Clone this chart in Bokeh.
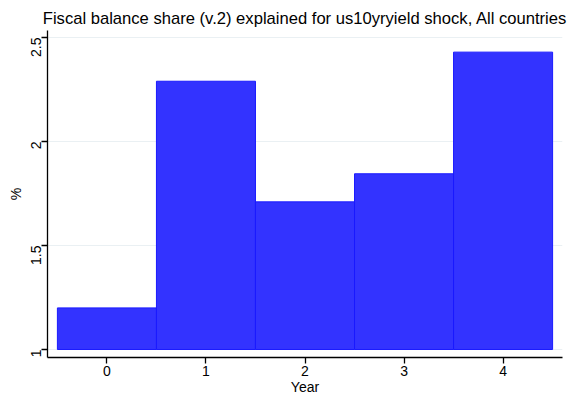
from bokeh.plotting import figure
from bokeh.models import FixedTicker, Range1d, ColumnDataSource
from bokeh.embed import file_html
from bokeh.resources import INLINE
import math

years = [0, 1, 2, 3, 4]
shares = [1.20, 2.29, 1.71, 1.845, 2.43]
y_ticks = [1, 1.5, 2, 2.5]
y_tick_labels = {1: "1", 1.5: "1.5", 2: "2", 2.5: "2.5"}

src = ColumnDataSource(dict(x=years, top=shares, bottom=[1] * len(years)))

p = figure(width=574, height=402, output_backend="svg", toolbar_location=None,
           x_range=Range1d(-0.6, 4.6), y_range=Range1d(0.9615, 2.534),
           min_border_left=47, min_border_right=12, min_border_top=30, min_border_bottom=45)

p.vbar(x="x", top="top", bottom="bottom", width=1.0, source=src,
       fill_color="#3333FF", line_color="#1a1aff", line_width=1)

p.title.text = "Fiscal balance share (v.2) explained for us10yryield shock, All countries"
p.title.align = "center"
p.title.text_font = "Liberation Sans"
p.title.text_font_size = "16.6px"
p.title.text_font_style = "normal"
p.title.text_color = "#000000"
p.title.standoff = 6

p.outline_line_color = None
p.xgrid.grid_line_color = None
p.ygrid.grid_line_color = "#eaf0f3"
p.ygrid.grid_line_width = 1

p.xaxis.ticker = FixedTicker(ticks=years)
p.yaxis.ticker = FixedTicker(ticks=y_ticks)
p.yaxis.major_label_overrides = y_tick_labels
p.xaxis.minor_tick_line_color = None
p.yaxis.minor_tick_line_color = None
p.yaxis.major_label_orientation = math.pi / 2
p.xaxis.axis_label = "Year"
p.yaxis.axis_label = "%"
for ax in (p.xaxis, p.yaxis):
    ax.axis_line_color = "#000000"
    ax.axis_line_width = 1.3
    ax.major_tick_line_color = "#000000"
    ax.major_tick_line_width = 1.3
    ax.major_tick_out = 6
    ax.major_tick_in = 0
    ax.major_label_text_font = "Liberation Sans"
    ax.major_label_text_font_size = "14px"
    ax.major_label_text_color = "#000000"
    ax.axis_label_text_font = "Liberation Sans"
    ax.axis_label_text_font_size = "14px"
    ax.axis_label_text_font_style = "normal"
    ax.axis_label_text_color = "#000000"
    ax.axis_label_standoff = 0
p.xaxis.major_label_standoff = 2
p.yaxis.major_label_standoff = 5

open("out.html", "w").write(file_html(p, INLINE))
